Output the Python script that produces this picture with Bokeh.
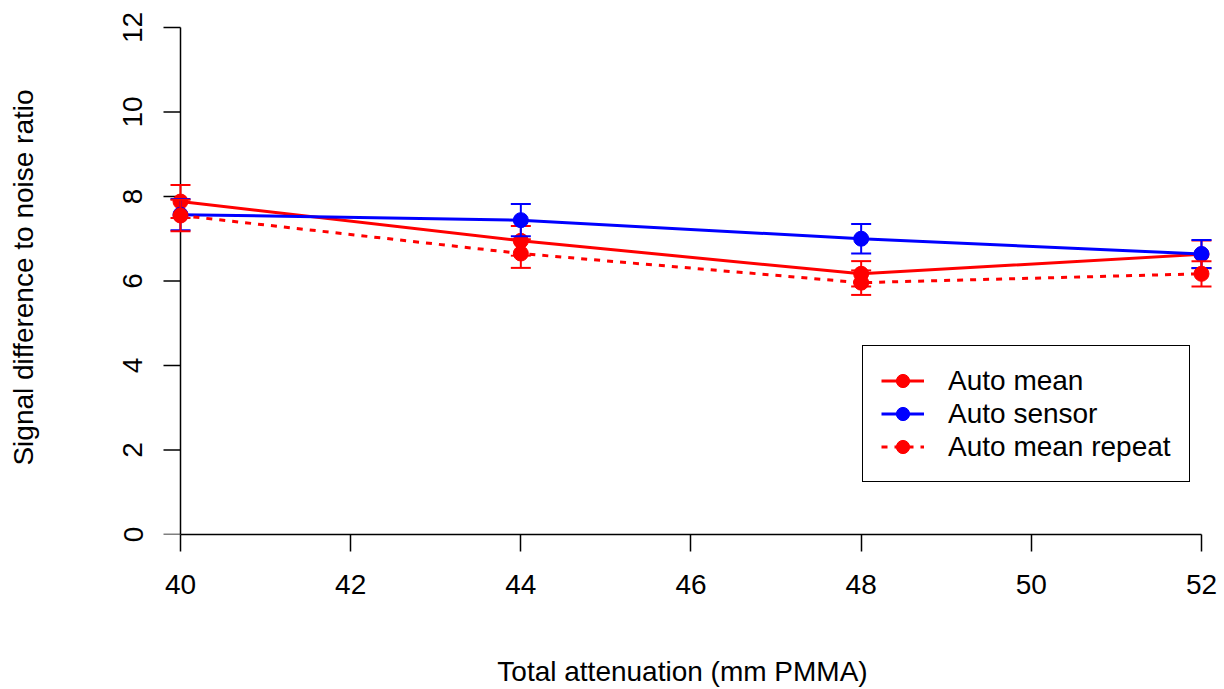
import math
from bokeh.plotting import figure
from bokeh.models import FixedTicker, Legend, LegendItem, ColumnDataSource, LinearAxis
from bokeh.embed import file_html
from bokeh.resources import INLINE

# ---- data ----
attenuation = [40, 44, 48, 52]
auto_mean = [7.88, 6.95, 6.17, 6.63]
auto_mean_err = [0.39, 0.35, 0.30, 0.33]
auto_sensor = [7.57, 7.44, 7.00, 6.64]
auto_sensor_err = [0.37, 0.38, 0.35, 0.33]
auto_mean_repeat = [7.55, 6.65, 5.96, 6.17]
auto_mean_repeat_err = [0.37, 0.34, 0.29, 0.30]
x_ticks = [40, 42, 44, 46, 48, 50, 52]
y_ticks = [0, 2, 4, 6, 8, 10, 12]

FONT = "Liberation Sans"
FS = "28px"

p = figure(width=1224, height=689,
           x_range=(39.6474, 52.1529), y_range=(0, 12.165),
           output_backend="svg", toolbar_location=None,
           y_axis_location=None,
           min_border_left=150, min_border_right=10,
           min_border_top=20, min_border_bottom=154)
p.outline_line_color = None
p.xgrid.visible = False
p.ygrid.visible = False


def style(ax):
    ax.axis_line_color = "black"
    ax.axis_line_width = 1.5
    ax.major_tick_line_color = "black"
    ax.major_tick_line_width = 1.5
    ax.major_tick_out = 17
    ax.major_tick_in = 0
    ax.minor_tick_line_color = None
    ax.major_label_text_font = FONT
    ax.major_label_text_font_size = FS
    ax.major_label_text_color = "black"
    ax.axis_label_text_font = FONT
    ax.axis_label_text_font_size = FS
    ax.axis_label_text_font_style = "normal"
    ax.axis_label_text_color = "black"


# x axis
xa = p.xaxis[0]
style(xa)
xa.ticker = FixedTicker(ticks=x_ticks)
xa.bounds = (min(x_ticks), max(x_ticks))
xa.major_label_standoff = 23
xa.axis_label = "Total attenuation (mm PMMA)"
xa.axis_label_standoff = 59

# y axis labels + title (in left panel)
ya_lab = LinearAxis(ticker=FixedTicker(ticks=y_ticks))
style(ya_lab)
ya_lab.axis_line_color = None
ya_lab.major_tick_line_color = None
ya_lab.major_tick_out = 0
ya_lab.major_label_orientation = "vertical"
ya_lab.major_label_standoff = 8
ya_lab.axis_label = "Signal difference to noise ratio"
ya_lab.axis_label_standoff = 82
p.add_layout(ya_lab, "left")

# y axis line and ticks at x = 40
x_axis_pos = [min(x_ticks)] * len(y_ticks)
p.segment(x0=[min(x_ticks)], y0=[min(y_ticks)], x1=[min(x_ticks)], y1=[max(y_ticks)],
          line_color="black", line_width=1.5)
p.ray(x=x_axis_pos, y=y_ticks, length=17, length_units="screen", angle=math.pi,
      line_color="black", line_width=1.5)

series = [
    ("Auto mean", auto_mean, auto_mean_err, "#ff0000", "solid"),
    ("Auto sensor", auto_sensor, auto_sensor_err, "#0000ff", "solid"),
    ("Auto mean repeat", auto_mean_repeat, auto_mean_repeat_err, "#ff0000", "6 7"),
]

items = []
for name, vals, errs, col, dash in series:
    src = ColumnDataSource(dict(
        x=attenuation, y=vals,
        lo=[v - e for v, e in zip(vals, errs)],
        hi=[v + e for v, e in zip(vals, errs)],
    ))
    lr = p.line("x", "y", source=src, line_color=col, line_width=3, line_dash=dash)
    sr = p.scatter("x", "y", source=src, marker="circle", size=15,
                   fill_color=col, line_color=col, line_width=1)
    p.segment(x0="x", y0="lo", x1="x", y1="hi", source=src, line_color=col, line_width=2)
    p.scatter("x", "lo", source=src, marker="dash", size=20, line_color=col, line_width=2)
    p.scatter("x", "hi", source=src, marker="dash", size=20, line_color=col, line_width=2)
    items.append(LegendItem(label=name, renderers=[lr, sr]))

legend = Legend(items=items, location=(712, 52))
legend.glyph_width = 43
legend.glyph_height = 33
legend.label_height = 33
legend.spacing = 0
legend.padding = 18
legend.margin = 0
legend.label_standoff = 24
legend.label_text_font = FONT
legend.label_text_font_size = FS
legend.label_text_color = "black"
legend.border_line_color = "black"
legend.border_line_width = 1.5
legend.border_line_alpha = 1.0
legend.background_fill_alpha = 1.0
p.add_layout(legend)

open("out.html", "w").write(file_html(p, INLINE))
